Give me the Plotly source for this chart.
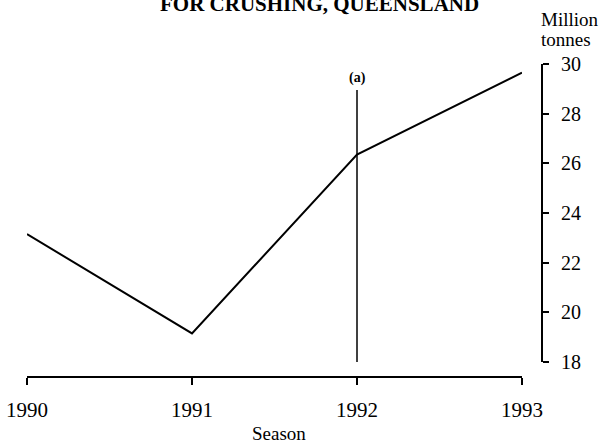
import plotly.graph_objects as go

# Data
seasons = [1990, 1991, 1992, 1993]
tonnes = [23.15, 19.15, 26.35, 29.65]
y_ticks = [18, 20, 22, 24, 26, 28, 30]
x_tick_labels = ["1990", "1991", "1992", "1993"]
break_season = 1992
break_range = [18, 28.95]
title_text = "FOR CRUSHING, QUEENSLAND"
y_unit_lines = ["Million", "tonnes"]
x_title = "Season"

W, H = 608, 444
L, R, T, B = 27, 66, 64, 67
pw = W - L - R
ph = H - T - B

FONT = "Liberation Serif"


def px_x(x):
    return (x - L) / pw


def px_y(y):
    return 1 + (T - y) / ph


fig = go.Figure()
fig.add_trace(go.Scatter(
    x=seasons, y=tonnes, mode="lines",
    line=dict(color="black", width=2), showlegend=False, hoverinfo="skip",
    cliponaxis=False,
))
fig.add_trace(go.Scatter(
    x=[break_season, break_season], y=break_range, mode="lines",
    line=dict(color="black", width=1.5), showlegend=False, hoverinfo="skip",
))

fig.add_annotation(x=break_season, y=break_range[1], xref="x", yref="y",
                   text="<b>(a)</b>", showarrow=False, yanchor="bottom", yshift=2,
                   font=dict(family=FONT, size=14, color="black"))

fig.add_annotation(x=px_x(319), y=px_y(4), xref="paper", yref="paper",
                   text="<b>" + title_text + "</b>", showarrow=False,
                   xanchor="center", yanchor="middle",
                   font=dict(family=FONT, size=21, color="black"))

for line_text, yc in zip(y_unit_lines, [20, 40]):
    fig.add_annotation(x=px_x(539), y=px_y(yc), xref="paper", yref="paper",
                       text=line_text, showarrow=False, xanchor="left",
                       yanchor="middle", align="left",
                       font=dict(family=FONT, size=19, color="black"))

fig.add_annotation(x=px_x(279), y=px_y(433), xref="paper", yref="paper",
                   text=x_title, showarrow=False, xanchor="center",
                   yanchor="middle",
                   font=dict(family=FONT, size=19, color="black"))

fig.update_layout(
    width=W, height=H,
    margin=dict(l=L, r=R, t=T, b=B, autoexpand=False),
    paper_bgcolor="white", plot_bgcolor="white",
    font=dict(family=FONT, size=20, color="black"),
    xaxis=dict(
        domain=[0, (522 - L) / pw], range=[seasons[0], seasons[-1]],
        anchor="free", position=0, automargin=False,
        showline=True, linewidth=2, linecolor="black",
        ticks="outside", ticklen=7, tickwidth=2, tickcolor="black",
        tickvals=seasons, ticktext=x_tick_labels, ticklabelstandoff=7,
        showgrid=False, zeroline=False,
        tickfont=dict(size=21),
    ),
    yaxis=dict(
        domain=[15 / ph, 1], range=[y_ticks[0], y_ticks[-1]],
        side="right", anchor="free", position=1, automargin=False,
        showline=True, linewidth=2, linecolor="black",
        ticks="outside", ticklen=6, tickwidth=2, tickcolor="black",
        tickvals=y_ticks, showgrid=False, zeroline=False, ticklabelstandoff=8,
        tickfont=dict(size=20),
    ),
)

fig.write_html(
    "out.html",
    config={"displayModeBar": False},
    post_script="document.body.style.margin='0';document.body.style.overflow='hidden';",
)
